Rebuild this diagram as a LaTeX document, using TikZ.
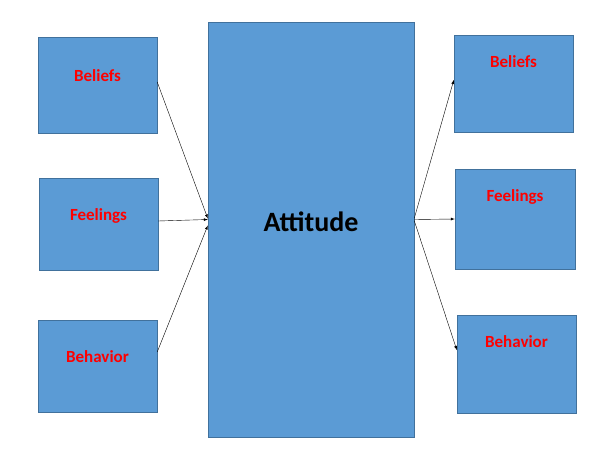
\documentclass[tikz,border=0pt]{standalone}
\usepackage{fontspec}
\setmainfont{Carlito}
\usetikzlibrary{arrows}
\usetikzlibrary{positioning}
\definecolor{boxfill}{HTML}{5B9BD5}
\definecolor{boxline}{HTML}{41719C}
\tikzstyle{block} = [rectangle, draw=boxline, fill=boxfill, inner sep=0pt]
\tikzstyle{tag} = [text=red, font=\bfseries\fontsize{17}{20}\selectfont, inner sep=0pt]
\tikzstyle{line} = [draw, -latex, thin]
\begin{document}
\begin{tikzpicture}[x=1pt, y=-1pt]
            \useasboundingbox (0,0) rectangle (601,452);
            % Place nodes
            \node [block, minimum width=206pt, minimum height=415pt] (att) at (311,229.5) {};
            \node [font=\bfseries\fontsize{28}{32}\selectfont, inner sep=0pt] (tatt) at (311,222) {Attitude};
            \node [block, minimum width=119pt, minimum height=96pt] (l1) at (97.5,85) {};
            \node [tag] (tl1) at (97.5,76) {Beliefs};
            \node [block, minimum width=119pt, minimum height=92pt] (l2) at (98.5,224) {};
            \node [tag] (tl2) at (98.5,216) {Feelings};
            \node [block, minimum width=119pt, minimum height=92pt] (l3) at (97.5,366) {};
            \node [tag] (tl3) at (97.5,357) {Behavior};
            \node [block, minimum width=119pt, minimum height=97pt] (r1) at (513.5,83.5) {};
            \node [tag] (tr1) at (513.5,62) {Beliefs};
            \node [block, minimum width=120pt, minimum height=100pt] (r2) at (515,219) {};
            \node [tag] (tr2) at (515,197) {Feelings};
            \node [block, minimum width=119pt, minimum height=98pt] (r3) at (516.5,364) {};
            \node [tag] (tr3) at (516.5,342) {Behavior};
            % Draw edges
            \path [line] ([yshift=3pt]l1.east) -- ([yshift=11pt]att.west);
            \path [line] ([yshift=3pt]l2.east) -- ([yshift=10pt]att.west);
            \path [line] ([yshift=14pt]l3.east) -- ([yshift=4pt]att.west);
            \path [line] ([yshift=11pt]att.east) -- ([yshift=3.5pt]r1.west);
            \path [line] ([yshift=10pt]att.east) -- (r2.west);
            \path [line] ([yshift=9pt]att.east) -- ([yshift=14pt]r3.west);
          \end{tikzpicture}
\end{document}
